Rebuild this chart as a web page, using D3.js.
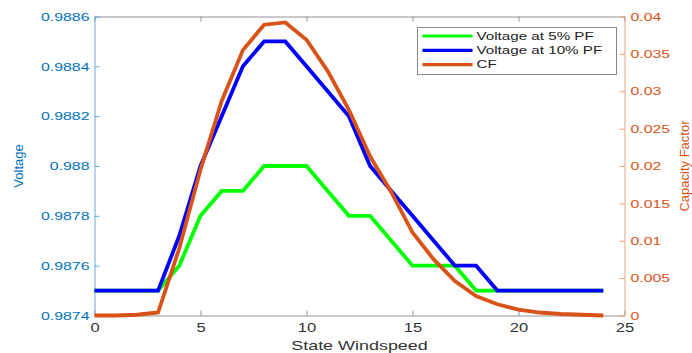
<!DOCTYPE html>
<html>
<head>
<meta charset="utf-8">
<script src="https://cdn.jsdelivr.net/npm/d3@7"></script>
<style>
  body { margin: 0; background: #fff; }
  svg { display: block; font-family: "Liberation Sans", Arial, Helvetica, sans-serif; }
</style>
</head>
<body>
<div class="chart"></div>
<script>
// data
const windspeed = [0, 1, 2, 3, 4, 5, 6, 7, 8, 9, 10, 11, 12, 13, 14, 15, 16, 17, 18, 19, 20, 21, 22, 23, 24];
const voltage5 = [0.9875, 0.9875, 0.9875, 0.9875, 0.9876, 0.9878, 0.9879, 0.9879, 0.9880, 0.9880, 0.9880, 0.9879, 0.9878,
  0.9878, 0.9877, 0.9876, 0.9876, 0.9876, 0.9875, 0.9875, 0.9875, 0.9875, 0.9875, 0.9875, 0.9875];
const voltage10 = [0.9875, 0.9875, 0.9875, 0.9875, 0.98772, 0.9880, 0.9882, 0.9884, 0.9885, 0.9885, 0.9884, 0.9883, 0.9882,
  0.9880, 0.9879, 0.9878, 0.9877, 0.9876, 0.9876, 0.9875, 0.9875, 0.9875, 0.9875, 0.9875, 0.9875];
const capacity = [0, 0, 0.0001, 0.0004, 0.009, 0.0195, 0.0287, 0.0355, 0.0389, 0.0392, 0.0369, 0.0327, 0.0275,
  0.0213, 0.0165, 0.0111, 0.0075, 0.0046, 0.0026, 0.0015, 0.0008, 0.0004, 0.0002, 0.0001, 0];

const xTicks = [0, 5, 10, 15, 20, 25];
const leftTicks = [0.9874, 0.9876, 0.9878, 0.988, 0.9882, 0.9884, 0.9886];
const leftLabels = ["0.9874", "0.9876", "0.9878", "0.988", "0.9882", "0.9884", "0.9886"];
const rightTicks = [0, 0.005, 0.01, 0.015, 0.02, 0.025, 0.03, 0.035, 0.04];
const rightLabels = ["0", "0.005", "0.01", "0.015", "0.02", "0.025", "0.03", "0.035", "0.04"];

const seriesNames = ["Voltage at 5% PF", "Voltage at 10% PF", "CF"];

const width = 692, height = 353;
const margin = { top: 16.5, right: 67.5, bottom: 37.5, left: 94.5 };
const innerW = width - margin.left - margin.right;
const innerH = height - margin.top - margin.bottom;

const blueAxis = "#0072BD", orangeAxis = "#D95319";
const stretch = 1.38; // the original text is drawn quite wide

const svg = d3.select(".chart")
  .append("svg")
  .attr("width", width)
  .attr("height", height);

const g = svg.append("g")
  .attr("transform", `translate(${margin.left},${margin.top})`);

const x = d3.scaleLinear().domain([0, 25]).range([0, innerW]);
const yL = d3.scaleLinear().domain([0.9874, 0.9886]).range([innerH, 0]);
const yR = d3.scaleLinear().domain([0, 0.04]).range([innerH, 0]);

// widen the horizontal texts
function widen(sel, k) {
  sel.each(function() {
    const t = d3.select(this);
    const tx = +t.attr("x") || 0;
    t.attr("x", tx / k).attr("transform", `scale(${k},1)`);
  });
}

// top border with ticks
g.append("g")
  .call(d3.axisTop(x).tickValues(xTicks).tickSizeInner(-5).tickSizeOuter(0).tickFormat(""))
  .call(a => a.selectAll("path, line").attr("stroke", "#777").attr("stroke-width", 0.8));

// bottom axis
const xAxis = g.append("g")
  .attr("transform", `translate(0,${innerH})`)
  .call(d3.axisBottom(x).tickValues(xTicks).tickSizeInner(-5).tickSizeOuter(0).tickPadding(8));
xAxis.selectAll("path, line").attr("stroke", "#777").attr("stroke-width", 0.8);
xAxis.selectAll("text").attr("fill", "#333").attr("font-size", 12).attr("font-family", null);
widen(xAxis.selectAll("text"), stretch);

// left axis
const lAxis = g.append("g")
  .call(d3.axisLeft(yL).tickValues(leftTicks).tickSizeInner(-5).tickSizeOuter(0).tickPadding(5)
    .tickFormat((d, i) => leftLabels[i]));
lAxis.selectAll("path, line").attr("stroke", "#6fa8d8").attr("stroke-width", 1);
lAxis.selectAll("text").attr("fill", blueAxis).attr("font-size", 11.5).attr("font-family", null);
widen(lAxis.selectAll("text"), stretch);

// right axis
const rAxis = g.append("g")
  .attr("transform", `translate(${innerW},0)`)
  .call(d3.axisRight(yR).tickValues(rightTicks).tickSizeInner(-5).tickSizeOuter(0).tickPadding(6)
    .tickFormat((d, i) => rightLabels[i]));
rAxis.selectAll("path, line").attr("stroke", "#e5a384").attr("stroke-width", 1);
rAxis.selectAll("text").attr("fill", orangeAxis).attr("font-size", 11.5).attr("font-family", null);
widen(rAxis.selectAll("text"), stretch);

// axis titles
const xTitle = svg.append("text")
  .attr("x", margin.left + innerW / 2)
  .attr("y", 350)
  .attr("text-anchor", "middle")
  .attr("font-size", 13)
  .attr("fill", "#333")
  .text("State Windspeed");
xTitle.attr("x", (margin.left + innerW / 2) / stretch).attr("transform", `scale(${stretch},1)`);

svg.append("text")
  .attr("transform", `translate(22.5,${margin.top + innerH / 2}) rotate(-90)`)
  .attr("text-anchor", "middle")
  .attr("font-size", 13)
  .attr("fill", blueAxis)
  .text("Voltage");

svg.append("text")
  .attr("transform", `translate(688.5,${margin.top + innerH / 2}) rotate(-90)`)
  .attr("text-anchor", "middle")
  .attr("font-size", 13)
  .attr("fill", orangeAxis)
  .text("Capacity Factor");

// lines
const lineL = d3.line().x((d, i) => x(windspeed[i])).y(d => yL(d));
const lineR = d3.line().x((d, i) => x(windspeed[i])).y(d => yR(d));

const series = [
  { values: voltage5, line: lineL, color: "#00FF00" },
  { values: voltage10, line: lineL, color: "#0000FF" },
  { values: capacity, line: lineR, color: "#D95319" }
];

g.selectAll(".series")
  .data(series)
  .join("path")
  .attr("class", "series")
  .attr("d", d => d.line(d.values))
  .attr("fill", "none")
  .attr("stroke", d => d.color)
  .attr("stroke-width", 3.8)
  .attr("stroke-linejoin", "miter");

// legend
const legend = svg.append("g").attr("transform", "translate(417.5,27.5)");
legend.append("rect")
  .attr("width", 199)
  .attr("height", 47)
  .attr("fill", "#fff")
  .attr("stroke", "#888")
  .attr("stroke-width", 1);

const items = legend.selectAll(".item")
  .data(series)
  .join("g")
  .attr("class", "item")
  .attr("transform", (d, i) => `translate(0,${8.5 + i * 14.3})`);
items.append("line")
  .attr("x1", 5).attr("x2", 55)
  .attr("stroke", d => d.color)
  .attr("stroke-width", 3.2);
items.append("text")
  .attr("x", 59)
  .attr("dy", "0.35em")
  .attr("font-size", 11)
  .attr("fill", "#222")
  .text((d, i) => seriesNames[i]);
widen(items.selectAll("text"), stretch);
</script>
</body>
</html>
